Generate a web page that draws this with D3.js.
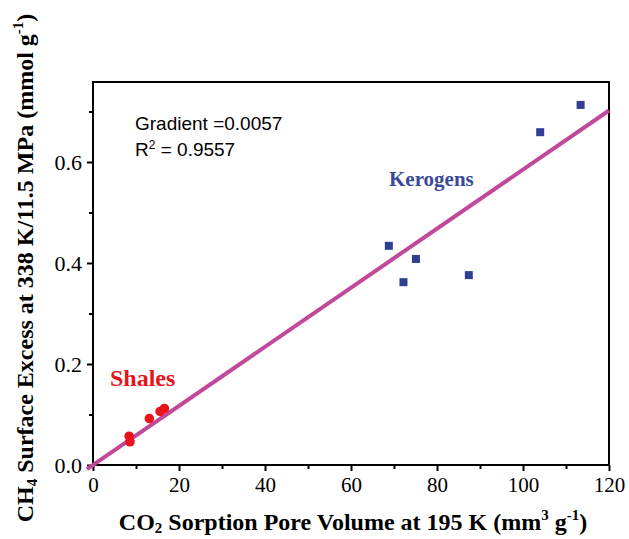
<!DOCTYPE html>
<html><head><meta charset="utf-8">
<script src="https://cdn.jsdelivr.net/npm/d3@7"></script>
<style>body{margin:0;background:#fff}</style>
</head><body>
<svg id="c" width="629" height="539"></svg>
<script>
const shaleX = [8.4, 8.6, 13.1, 15.6, 16.6];
const shaleY = [0.057, 0.046, 0.092, 0.106, 0.112];
const kerogenX = [68.8, 72.2, 75.1, 87.4, 104.0, 113.4];
const kerogenY = [0.434, 0.362, 0.408, 0.376, 0.659, 0.713];
const fitSlope = 0.00585;
const fitIntercept = 0.0;
const fitRange = [-1.4, 120];
const xTicks = [0, 20, 40, 60, 80, 100, 120];
const xMinor = [10, 30, 50, 70, 90, 110];
const yTicks = [0.0, 0.2, 0.4, 0.6];
const yMinor = [0.1, 0.3, 0.5, 0.7];

const svg = d3.select("#c");
const L = 93, R = 609, T = 82, B = 465;
const x = d3.scaleLinear().domain([0, 120]).range([L, R]);
const y = d3.scaleLinear().domain([0, 0.7584]).range([B, T]);
const serif = "'Liberation Serif','Times New Roman',serif";

// frame
svg.append("rect").attr("x", L).attr("y", T).attr("width", R - L).attr("height", B - T)
  .attr("fill", "none").attr("stroke", "#000").attr("stroke-width", 2);

// x axis
const xa = svg.append("g").attr("transform", `translate(0,${B})`)
  .call(d3.axisBottom(x).tickValues(xTicks).tickSize(6).tickPadding(6).tickFormat(d3.format("d")));
xa.select(".domain").remove();
xa.selectAll("line").attr("stroke-width", 2);
xa.selectAll("text").attr("font-family", serif).attr("font-size", 21).attr("fill", "#000");
const xm = svg.append("g").attr("transform", `translate(0,${B})`)
  .call(d3.axisBottom(x).tickValues(xMinor).tickSize(4).tickFormat(""));
xm.select(".domain").remove();
xm.selectAll("line").attr("stroke-width", 2);

// y axis
const ya = svg.append("g").attr("transform", `translate(${L},0)`)
  .call(d3.axisLeft(y).tickValues(yTicks).tickSize(6).tickPadding(5).tickFormat(d3.format(".1f")));
ya.select(".domain").remove();
ya.selectAll("line").attr("stroke-width", 2);
ya.selectAll("text").attr("font-family", serif).attr("font-size", 22).attr("fill", "#000");
const ym = svg.append("g").attr("transform", `translate(${L},0)`)
  .call(d3.axisLeft(y).tickValues(yMinor).tickSize(4).tickFormat(""));
ym.select(".domain").remove();
ym.selectAll("line").attr("stroke-width", 2);

// fit line
svg.append("line")
  .attr("x1", x(fitRange[0])).attr("y1", y(fitIntercept + fitSlope * fitRange[0]))
  .attr("x2", x(fitRange[1])).attr("y2", y(fitIntercept + fitSlope * fitRange[1]))
  .attr("stroke", "#c2489b").attr("stroke-width", 4);

// kerogens
const kdata = kerogenX.map((v, i) => [v, kerogenY[i]]);
svg.append("g").selectAll("rect").data(kdata).join("rect")
  .attr("x", d => x(d[0]) - 4).attr("y", d => y(d[1]) - 4)
  .attr("width", 8).attr("height", 8).attr("fill", "#2f3f94");

// shales
const sdata = shaleX.map((v, i) => [v, shaleY[i]]);
svg.append("g").selectAll("circle").data(sdata).join("circle")
  .attr("cx", d => x(d[0])).attr("cy", d => y(d[1])).attr("r", 4.8).attr("fill", "#e8141c");

// annotations
svg.append("text").attr("x", 389).attr("y", 186).attr("font-family", serif)
  .attr("font-weight", "bold").attr("font-size", 21).attr("fill", "#3a4a98").text("Kerogens");
svg.append("text").attr("x", 110).attr("y", 386).attr("font-family", serif)
  .attr("font-weight", "bold").attr("font-size", 24).attr("fill", "#e8141c").text("Shales");

const sans = "'Liberation Sans',Arial,sans-serif";
svg.append("text").attr("x", 135).attr("y", 130).attr("font-family", sans)
  .attr("font-size", 19).attr("fill", "#000").text("Gradient =0.0057");
const r2 = svg.append("text").attr("x", 135).attr("y", 156).attr("font-family", sans)
  .attr("font-size", 19).attr("fill", "#000");
r2.append("tspan").text("R");
r2.append("tspan").attr("dy", -7).attr("font-size", 12).text("2");
r2.append("tspan").attr("dy", 7).text(" = 0.9557");

// x title
const xt = svg.append("text").attr("x", 353).attr("y", 530).attr("text-anchor", "middle")
  .attr("font-family", serif).attr("font-weight", "bold").attr("font-size", 24).attr("fill", "#000");
xt.append("tspan").text("CO");
xt.append("tspan").attr("dy", 3).attr("font-size", 15).text("2");
xt.append("tspan").attr("dy", -3).text(" Sorption Pore Volume at 195 K (mm");
xt.append("tspan").attr("dy", -10).attr("font-size", 15).text("3");
xt.append("tspan").attr("dy", 10).text(" g");
xt.append("tspan").attr("dy", -10).attr("font-size", 15).text("-1");
xt.append("tspan").attr("dy", 10).text(")");

// y title
const yt = svg.append("text").attr("transform", "translate(33,268) rotate(-90)")
  .attr("text-anchor", "middle")
  .attr("font-family", serif).attr("font-weight", "bold").attr("font-size", 24).attr("fill", "#000");
yt.append("tspan").text("CH");
yt.append("tspan").attr("dy", 4).attr("font-size", 15).text("4");
yt.append("tspan").attr("dy", -4).text(" Surface Excess at 338 K/11.5 MPa (mmol g");
yt.append("tspan").attr("dy", -10).attr("font-size", 15).text("-1");
yt.append("tspan").attr("dy", 10).text(")");
</script>
</body></html>
